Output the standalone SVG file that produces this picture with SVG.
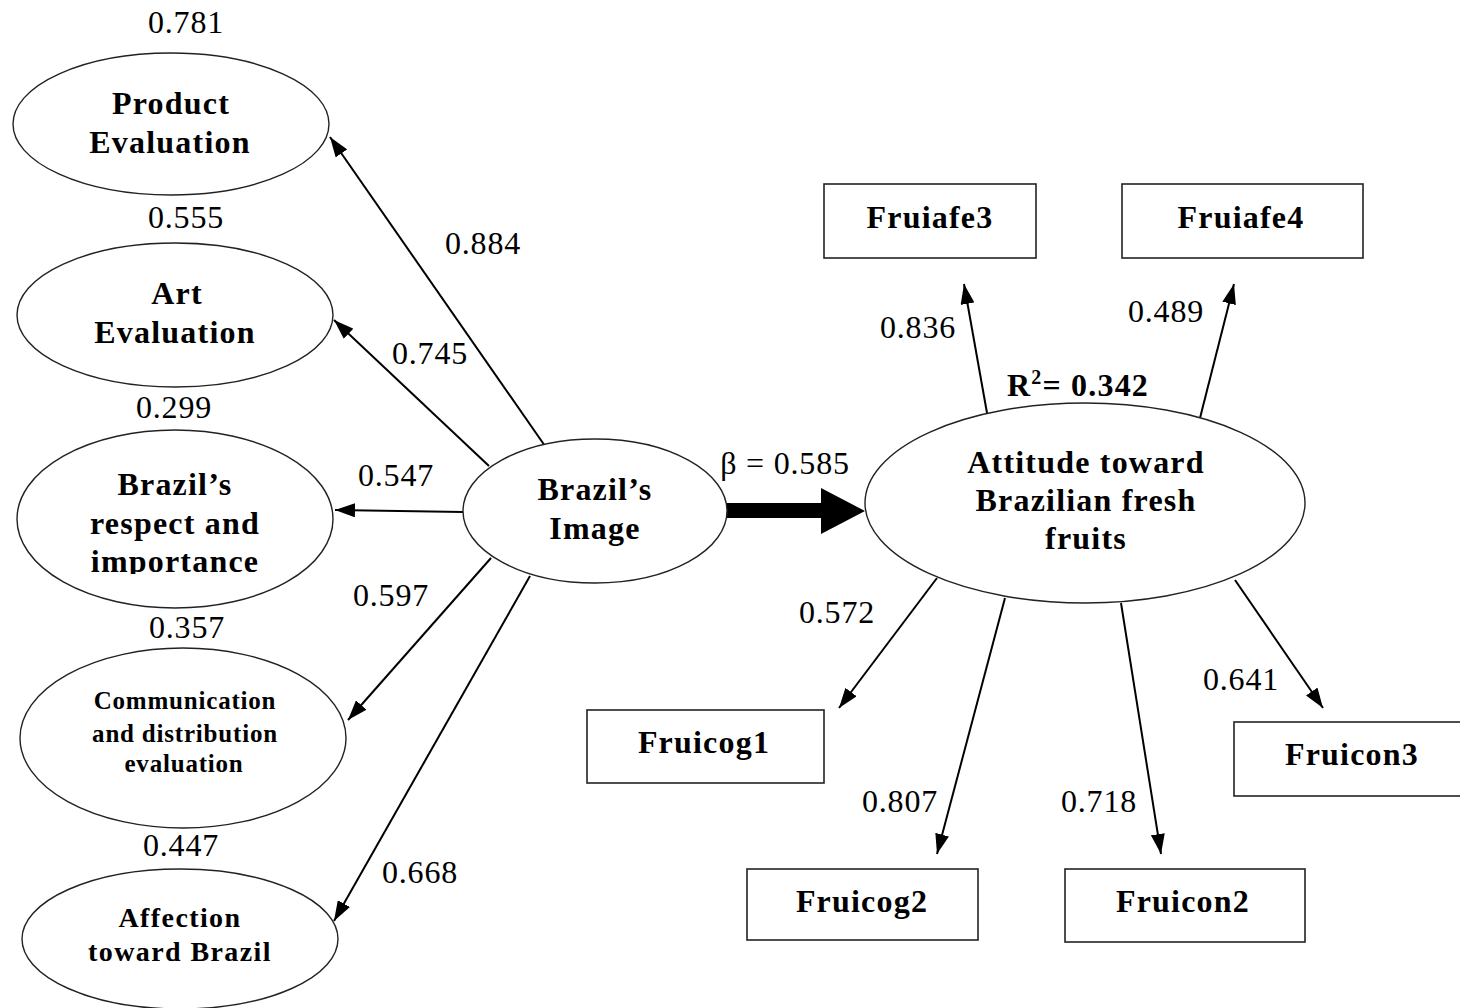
<svg xmlns="http://www.w3.org/2000/svg" width="1460" height="1008" viewBox="0 0 1460 1008">
<style>
.bg{fill:#fff}
.node ellipse{fill:#fff;stroke:#222;stroke-width:1.4}
.node rect{fill:#fff;stroke:#222;stroke-width:1.6}
.lbl{font-family:"Liberation Serif","Times New Roman",serif;font-weight:bold;font-size:32px;letter-spacing:1.2px;fill:#000;text-anchor:middle}
.sm{font-size:25px;letter-spacing:0.8px}
.md{font-size:28px;letter-spacing:1.4px}
.num{font-family:"Liberation Serif","Times New Roman",serif;font-size:32px;letter-spacing:0.8px;fill:#000;text-anchor:middle}
.conn line{stroke:#000;stroke-width:2;marker-end:url(#ah)}
</style>
<defs>
<marker id="ah" markerUnits="userSpaceOnUse" markerWidth="20" markerHeight="14" viewBox="0 0 20 14" refX="20" refY="7" orient="auto">
<path d="M0,0 L20,7 L0,14 Z" fill="#000"/>
</marker>
<clipPath id="clipImp"><rect x="0" y="420" width="400" height="154"/></clipPath>
</defs>
<rect class="bg" x="0" y="0" width="1460" height="1008"/>

<g id="connectors" class="conn">
<line x1="545" y1="446" x2="330" y2="137"/>
<line x1="489" y1="466" x2="334" y2="320"/>
<line x1="463" y1="512" x2="335" y2="510"/>
<line x1="491" y1="558" x2="348" y2="720"/>
<line x1="530" y1="576" x2="334" y2="921"/>
<line x1="987" y1="413" x2="964" y2="284"/>
<line x1="1200" y1="418" x2="1234" y2="284"/>
<line x1="937" y1="578" x2="839" y2="708"/>
<line x1="1005" y1="598" x2="937" y2="854"/>
<line x1="1121" y1="603" x2="1161" y2="854"/>
<line x1="1235" y1="580" x2="1323" y2="708"/>
<polygon points="727,503 821,503 821,488 865,511 821,534 821,518 727,518" fill="#000"/>
</g>

<g id="product-evaluation" class="node">
<ellipse cx="171" cy="124" rx="158" ry="71"/>
<text class="lbl" x="171" y="114">Product</text>
<text class="lbl" x="170" y="153">Evaluation</text>
</g>
<g id="art-evaluation" class="node">
<ellipse cx="175" cy="315" rx="158" ry="72"/>
<text class="lbl" x="177" y="304">Art</text>
<text class="lbl" x="175" y="343">Evaluation</text>
</g>
<g id="brazil-respect" class="node">
<ellipse cx="175" cy="519" rx="158" ry="89"/>
<text class="lbl" x="175" y="495">Brazil’s</text>
<text class="lbl" x="175" y="534">respect and</text>
<text class="lbl" x="175" y="572" clip-path="url(#clipImp)">importance</text>
</g>
<g id="communication" class="node">
<ellipse cx="183" cy="738" rx="163" ry="90"/>
<text class="lbl sm" x="185" y="709">Communication</text>
<text class="lbl sm" x="185" y="742">and distribution</text>
<text class="lbl sm" x="184" y="772">evaluation</text>
</g>
<g id="affection" class="node">
<ellipse cx="180" cy="939" rx="158" ry="70"/>
<text class="lbl md" x="180" y="927">Affection</text>
<text class="lbl md" x="180" y="961">toward Brazil</text>
</g>
<g id="brazil-image" class="node">
<ellipse cx="595" cy="511" rx="132" ry="72"/>
<text class="lbl" x="595" y="500">Brazil’s</text>
<text class="lbl" x="595" y="539">Image</text>
</g>
<g id="attitude" class="node">
<ellipse cx="1085" cy="503" rx="220" ry="100"/>
<text class="lbl" x="1086" y="473">Attitude toward</text>
<text class="lbl" x="1086" y="511">Brazilian fresh</text>
<text class="lbl" x="1086" y="549">fruits</text>
</g>
<g id="fruiafe3" class="node">
<rect x="824" y="184" width="212" height="74"/>
<text class="lbl" x="930" y="228">Fruiafe3</text>
</g>
<g id="fruiafe4" class="node">
<rect x="1122" y="184" width="241" height="74"/>
<text class="lbl" x="1241" y="228">Fruiafe4</text>
</g>
<g id="fruicog1" class="node">
<rect x="587" y="710" width="237" height="73"/>
<text class="lbl" x="704" y="753">Fruicog1</text>
</g>
<g id="fruicog2" class="node">
<rect x="747" y="869" width="231" height="71"/>
<text class="lbl" x="862" y="912">Fruicog2</text>
</g>
<g id="fruicon2" class="node">
<rect x="1065" y="869" width="240" height="73"/>
<text class="lbl" x="1183" y="912">Fruicon2</text>
</g>
<g id="fruicon3" class="node">
<rect x="1234" y="722" width="240" height="74"/>
<text class="lbl" x="1352" y="765">Fruicon3</text>
</g>

<g id="labels">
<text class="num" x="186" y="33">0.781</text>
<text class="num" x="186" y="228">0.555</text>
<text class="num" x="174" y="418">0.299</text>
<text class="num" x="187" y="638">0.357</text>
<text class="num" x="181" y="856">0.447</text>
<text class="num" x="483" y="254">0.884</text>
<text class="num" x="430" y="364">0.745</text>
<text class="num" x="396" y="486">0.547</text>
<text class="num" x="391" y="606">0.597</text>
<text class="num" x="420" y="883">0.668</text>
<text class="num" x="785" y="474">β = 0.585</text>
<text class="lbl" x="1078" y="396">R<tspan font-size="20" dy="-12">2</tspan><tspan dy="12">= 0.342</tspan></text>
<text class="num" x="918" y="338">0.836</text>
<text class="num" x="1166" y="322">0.489</text>
<text class="num" x="837" y="623">0.572</text>
<text class="num" x="1241" y="690">0.641</text>
<text class="num" x="900" y="812">0.807</text>
<text class="num" x="1099" y="812">0.718</text>
</g>
</svg>
